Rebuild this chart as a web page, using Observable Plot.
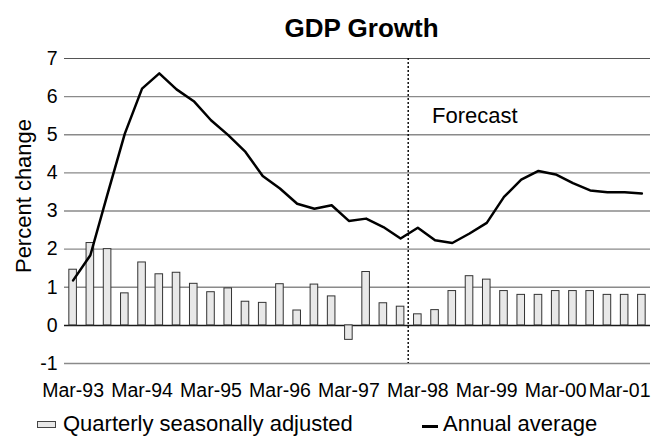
<!DOCTYPE html>
<html>
<head>
<meta charset="utf-8">
<script src="https://cdn.jsdelivr.net/npm/d3@7"></script>
<script src="https://cdn.jsdelivr.net/npm/@observablehq/plot@0.6"></script>
<style>
  body { margin: 0; background: #fff; font-family: "Liberation Sans", Arial, sans-serif; width: 651px; height: 436px; overflow: hidden; }
  #title { height: 43px; box-sizing: border-box; padding-top: 13px; padding-left: 72px; text-align: center; font-weight: bold; font-size: 26px; line-height: 30px; color: #000; }
  #chart svg { display: block; }
  #legend { position: relative; height: 33px; font-size: 22px; color: #000; }
  #legend .txt { position: absolute; top: 9px; line-height: 24px; white-space: nowrap; }
  #legend .box { position: absolute; left: 37px; top: 18px; width: 17px; height: 5px; border: 1px solid #444; background: #e8e8e8; }
  #legend .line { position: absolute; left: 422px; top: 22px; width: 16px; height: 3px; background: #000; }
</style>
</head>
<body>
<div id="title">GDP Growth</div>
<div id="chart"></div>
<div id="legend">
  <div class="box"></div><div class="txt" style="left:63px">Quarterly seasonally adjusted</div>
  <div class="line"></div><div class="txt" style="left:443px">Annual average</div>
</div>
<script>
const quarters = [
  "Mar-93","Jun-93","Sep-93","Dec-93",
  "Mar-94","Jun-94","Sep-94","Dec-94",
  "Mar-95","Jun-95","Sep-95","Dec-95",
  "Mar-96","Jun-96","Sep-96","Dec-96",
  "Mar-97","Jun-97","Sep-97","Dec-97",
  "Mar-98","Jun-98","Sep-98","Dec-98",
  "Mar-99","Jun-99","Sep-99","Dec-99",
  "Mar-00","Jun-00","Sep-00","Dec-00",
  "Mar-01","Jun-01"
];
const quarterly = [
  1.46, 2.16, 2.00, 0.84,
  1.65, 1.34, 1.38, 1.09,
  0.87, 0.97, 0.62, 0.59,
  1.08, 0.39, 1.07, 0.76,
  -0.38, 1.40, 0.58, 0.49,
  0.29, 0.40, 0.90, 1.29,
  1.20, 0.90, 0.80, 0.80,
  0.90, 0.90, 0.90, 0.80,
  0.80, 0.80
];
const annual = [
  1.18, 1.84, 3.45, 5.03,
  6.21, 6.61, 6.19, 5.88,
  5.38, 4.99, 4.55, 3.92,
  3.59, 3.19, 3.06, 3.15,
  2.74, 2.80, 2.58, 2.28,
  2.56, 2.23, 2.16, 2.41,
  2.69, 3.37, 3.82, 4.05,
  3.96, 3.73, 3.54, 3.49,
  3.49, 3.46
];
const xTickLabels = ["Mar-93","Mar-94","Mar-95","Mar-96","Mar-97","Mar-98","Mar-99","Mar-00","Mar-01"];
const yTicks = [-1, 0, 1, 2, 3, 4, 5, 6, 7];
const forecastStart = "Mar-98";
const forecastNote = [{q: "Jun-98", v: 5.5, label: "Forecast"}];
const yLabel = "Percent change";

const data = quarters.map((q, i) => ({q, quarterly: quarterly[i], annual: annual[i]}));

const width = 651, marginLeft = 64, marginRight = 1;
const step = (width - marginLeft - marginRight) / quarters.length;
const lastTick = xTickLabels[xTickLabels.length - 1];
const lastQuarter = quarters[quarters.length - 1];

const chart = Plot.plot({
  width,
  height: 360,
  marginTop: 15,
  marginBottom: 40,
  marginLeft,
  marginRight,
  style: {fontFamily: "'Liberation Sans', Arial, sans-serif", fontSize: "19.5px", color: "#000", background: "#fff"},
  x: {type: "band", domain: quarters, paddingInner: 0.56, paddingOuter: 0.28, round: false,
      ticks: xTickLabels.slice(0, -1), tickSize: 0, tickPadding: 20, label: null},
  y: {domain: [-1, 7], ticks: yTicks, tickSize: 0, tickPadding: 7, label: null, tickFormat: d => String(d)},
  marks: [
    Plot.ruleY(yTicks.filter(d => d !== 0 && d !== 7), {stroke: "#8a8a8a", strokeWidth: 1.3}),
    Plot.ruleY([7], {stroke: "#555", strokeWidth: 1.2}),
    Plot.ruleY([0], {stroke: "#1a1a1a", strokeWidth: 1.5}),
    Plot.barY(data, {x: "q", y: "quarterly", fill: "#e8e8e8", stroke: "#333", strokeWidth: 1}),
    Plot.ruleX([forecastStart], {dx: -step / 2 - 1, stroke: "#000", strokeWidth: 1.4, strokeDasharray: "2,2"}),
    Plot.lineY(data, {x: "q", y: "annual", stroke: "#000", strokeWidth: 2.5}),
    Plot.text(forecastNote, {x: "q", y: "v", text: "label", textAnchor: "start", dx: -3, fontSize: 22}),
    Plot.text([lastTick], {x: [lastQuarter], text: d => d, frameAnchor: "bottom", lineAnchor: "top",
                           textAnchor: "end", dx: step / 2, dy: 20}),
    Plot.text([yLabel], {frameAnchor: "left", textAnchor: "middle", rotate: -90, dx: -41, dy: -15, fontSize: 22})
  ]
});
document.getElementById("chart").appendChild(chart);
</script>
</body>
</html>
